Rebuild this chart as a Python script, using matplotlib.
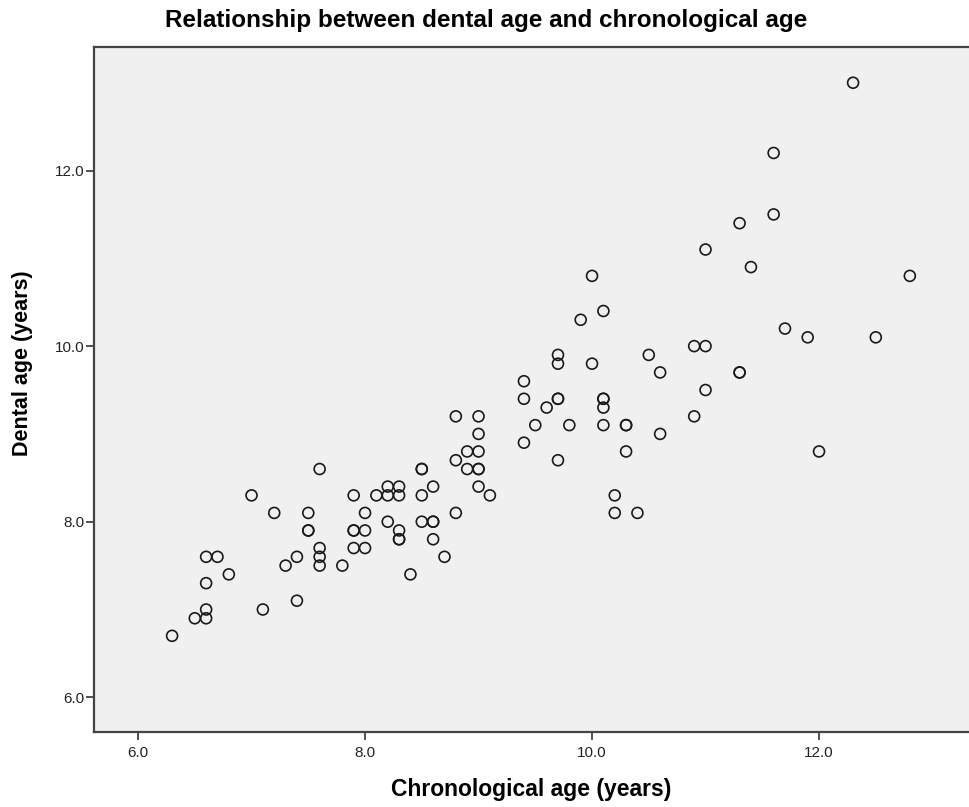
import matplotlib.pyplot as plt

# chronological age (x) and dental age (y)
chrono_age = [
    12.3, 11.6, 11.6, 11.3, 11.0, 11.4, 10.0, 12.8, 10.1, 9.9,
    11.7, 11.9, 12.5, 10.9, 11.0, 9.7, 9.7, 10.0, 10.5, 10.6,
    11.3, 11.3, 9.4, 11.0, 9.4, 9.7, 9.7, 10.1, 10.1, 10.1,
    9.6, 9.5, 9.8, 10.1, 10.3, 10.3, 10.9, 10.6, 9.4, 10.3,
    12.0, 9.7, 10.2, 10.2, 10.4,
    8.8, 9.0, 9.0, 8.9, 9.0, 8.8, 8.9, 9.0, 9.0, 9.0,
    9.1, 8.8, 8.5, 8.5, 8.6, 8.5, 8.5, 8.6, 8.6, 8.6,
    8.7, 8.4, 8.2, 8.3, 8.1, 8.2, 8.3, 8.2, 8.3, 8.3,
    8.3, 7.9, 8.0, 7.9, 7.9, 8.0, 7.9, 8.0, 7.8, 7.6,
    7.5, 7.5, 7.5, 7.6, 7.6, 7.6, 7.4, 7.3, 7.4, 7.0,
    7.2, 7.1, 6.6, 6.7, 6.8, 6.6, 6.6, 6.5, 6.6, 6.3,
]
dental_age = [
    13.0, 12.2, 11.5, 11.4, 11.1, 10.9, 10.8, 10.8, 10.4, 10.3,
    10.2, 10.1, 10.1, 10.0, 10.0, 9.9, 9.8, 9.8, 9.9, 9.7,
    9.7, 9.7, 9.6, 9.5, 9.4, 9.4, 9.4, 9.4, 9.4, 9.3,
    9.3, 9.1, 9.1, 9.1, 9.1, 9.1, 9.2, 9.0, 8.9, 8.8,
    8.8, 8.7, 8.3, 8.1, 8.1,
    9.2, 9.2, 9.0, 8.8, 8.8, 8.7, 8.6, 8.6, 8.6, 8.4,
    8.3, 8.1, 8.6, 8.6, 8.4, 8.3, 8.0, 8.0, 8.0, 7.8,
    7.6, 7.4, 8.4, 8.4, 8.3, 8.3, 8.3, 8.0, 7.9, 7.8,
    7.8, 8.3, 8.1, 7.9, 7.9, 7.9, 7.7, 7.7, 7.5, 8.6,
    8.1, 7.9, 7.9, 7.7, 7.6, 7.5, 7.6, 7.5, 7.1, 8.3,
    8.1, 7.0, 7.6, 7.6, 7.4, 7.3, 7.0, 6.9, 6.9, 6.7,
]
tick_vals = [6.0, 8.0, 10.0, 12.0]
tick_labels = ['6.0', '8.0', '10.0', '12.0']

plt.rcParams['font.family'] = ['Liberation Sans', 'DejaVu Sans']

fig = plt.figure(figsize=(9.69, 8.07), dpi=100)
W, H = 969, 807
ax = fig.add_axes([94 / W, (H - 731.7) / H, (W - 94) / W, (731.7 - 47) / H])
ax.set_facecolor('#f0f0f0')

ax.scatter(chrono_age, dental_age, s=62, facecolors='none',
           edgecolors='#1a1a1a', linewidths=1.2, zorder=3, clip_on=False)

ax.set_xlim(5.612, 5.612 + (W - 94) / 113.5)
ax.set_ylim(5.608, 13.407)
ax.set_xticks(tick_vals)
ax.set_xticklabels(tick_labels)
ax.set_yticks(tick_vals)
ax.set_yticklabels(tick_labels)
ax.tick_params(direction='out', length=6, width=1.2, color='#333333',
               labelsize=11, labelcolor='#222222')
ax.tick_params(axis='x', pad=4)
ax.tick_params(axis='y', pad=1)

for side in ['left', 'bottom', 'top']:
    ax.spines[side].set_color('#444444')
    ax.spines[side].set_linewidth(1.6)
ax.spines['right'].set_visible(False)

ax.set_xlabel('Chronological age (years)', fontsize=16.5, fontweight='bold')
ax.xaxis.set_label_coords(0.5, -0.067)
ax.set_ylabel('Dental age (years)', fontsize=15.5, fontweight='bold')
ax.yaxis.set_label_coords(-0.07, 0.538)
fig.text(486 / W, 1 - 21 / H, 'Relationship between dental age and chronological age',
         ha='center', va='center', fontsize=17.5, fontweight='bold')

plt.savefig('out.png', dpi=100)
